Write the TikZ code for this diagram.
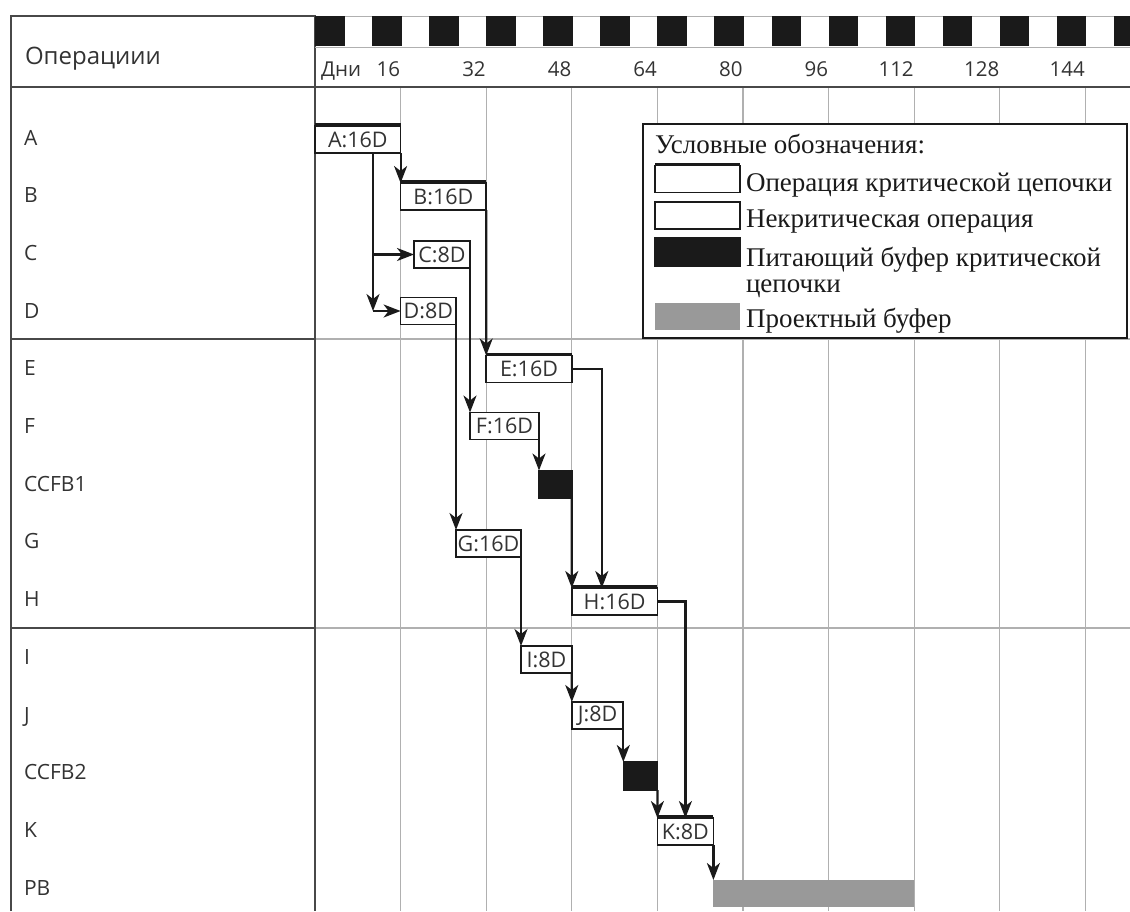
\documentclass[tikz,border=0pt]{standalone}
\usepackage{fontspec}
\setmainfont{Open Sans}
\newfontfamily\legendfont{Liberation Serif}
\usepackage{xcolor}
\usepackage{tikz}
\usetikzlibrary{positioning, arrows.meta}
\definecolor{inkblack}{HTML}{1A1A1A}
\definecolor{gridgray}{HTML}{B0B0B0}
\definecolor{pbgray}{HTML}{999999}
\definecolor{labelgray}{HTML}{333333}

\begin{document}
\begin{tikzpicture}[x=1pt, y=-1pt,
  every node/.style={inner sep=0pt, outer sep=0pt},
  hdr/.style={text=labelgray, font=\fontsize{20.5}{24}\selectfont},
  rowlbl/.style={anchor=base west, text=labelgray, font=\fontsize{21}{24}\selectfont},
  task/.style={draw=inkblack, line width=1.7pt, fill=white, anchor=west,
               minimum height=27pt, text=labelgray, font=\fontsize{21.5}{24}\selectfont},
  feeder/.style={draw=inkblack, fill=inkblack, line width=1.4pt, anchor=west, minimum height=28pt},
  projbuf/.style={fill=pbgray, anchor=west, minimum height=27pt},
  critline/.style={inkblack, line width=3.8pt},
  link/.style={inkblack, line width=2.2pt, -{Stealth[length=17pt, width=13pt, inset=5pt]}},
  legtext/.style={anchor=base west, text=inkblack, font=\legendfont\fontsize{27}{28}\selectfont}]

  \useasboundingbox (0,0) rectangle (1130,911);

  % grid
  \foreach \i in {1,...,9}
    \draw[gridgray, line width=1.3pt] ({315+85.6*\i},87) -- ({315+85.6*\i},911);
  \draw[gridgray, line width=1.3pt] (315,339) -- (1130,339) (315,628) -- (1130,628);

  % table frame and time scale
  \draw[inkblack!80, line width=1.5pt] (11,911) -- (11,16) -- (315,16) -- (315,911);
  \draw[inkblack!80, line width=1.5pt] (11,87) -- (1130,87);
  \draw[inkblack!80, line width=1.5pt] (11,339) -- (315,339) (11,628) -- (315,628);
  \draw[gridgray, line width=1pt] (315,16.5) -- (1130,16.5) (315,47) -- (1130,47);
  \foreach \k in {0,...,14}
    \fill[inkblack] ({315+57.07*\k},16) rectangle +(29.5,30);

  \node[hdr, anchor=base west, font=\fontsize{24}{26}\selectfont] (ops) at (25,64) {Операциии};
  \node[hdr, anchor=base west] (days) at (321,76) {Дни};
  \foreach \d [count=\i] in {16,32,48,64,80,96,112,128,144}
    \node[hdr, anchor=base east] (d\i) at ({314.5+85.6*\i},76) {\d};

  \foreach \r [count=\i from 0] in {A,B,C,D,E,F,CCFB1,G,H,I,J,CCFB2,K,PB}
    \node[rowlbl] (row\i) at (24,{145+57.7*\i}) {\r};

  % operations and buffers
  \node[task, minimum width=85.6pt] (A) at (315,139.5) {A:16D};
  \node[task, minimum width=85.6pt] (B) at (400.6,196.5) {B:16D};
  \node[task, minimum width=56pt] (C) at (414,254.5) {C:8D};
  \node[task, minimum width=55.4pt] (D) at (400.6,311) {D:8D};
  \node[task, minimum width=85.6pt] (E) at (486.2,369) {E:16D};
  \node[task, minimum width=69pt] (F) at (470,426) {F:16D};
  \node[feeder, minimum width=32.8pt] (cb1) at (539,484.5) {};
  \node[task, minimum width=65pt] (G) at (456,543.5) {G:16D};
  \node[task, minimum width=85.6pt] (H) at (571.8,601.5) {H:16D};
  \node[task, minimum width=50.8pt] (I) at (521,659.5) {I:8D};
  \node[task, minimum width=51.5pt] (J) at (571.8,715.5) {J:8D};
  \node[feeder, minimum width=34.1pt] (cb2) at (623.3,776) {};
  \node[task, minimum width=56pt] (K) at (657.4,831.5) {K:8D};
  \node[projbuf, minimum width=200.8pt] (PB) at (713.4,893.5) {};
  \foreach \n in {A,B,E,H,K}
    \draw[critline] ([yshift=1pt]\n.north west) -- ([yshift=1pt]\n.north east);

  % links
  \coordinate (fork) at ([xshift=58pt]A.south west);
  \draw[link] (A.south east) -- (B.north west);
  \draw[link] (fork) |- (C.west);
  \draw[link] (fork) -- (fork |- D.west);
  \draw[link] (fork |- D.west) -- (D.west);
  \draw[link] (B.south east) -- (E.north west);
  \draw[link] (C.south east) -- (F.north west);
  \draw[link] (D.south east) -- (G.north west);
  \draw[link] (F.south east) -- (cb1.north west);
  \draw[link] (cb1.south east) -- (H.north west);
  \draw[link] (E.east) -| ([xshift=30pt]H.north west);
  \draw[link] (G.south east) -- (I.north west);
  \draw[link] (I.south east) -- (J.north west);
  \draw[link] (J.south east) -- (cb2.north west);
  \draw[link] (cb2.south east) -- (K.north west);
  \draw[link] (H.east) -| ([xshift=28pt]K.north west);
  \draw[link] (K.south east) -- (PB.north west);

  % legend
  \node[draw=inkblack, line width=2pt, fill=white, anchor=north west,
        minimum width=484pt, minimum height=214pt] (legend) at (643,124) {};
  \node[legtext] (legtitle) at (655,153) {Условные обозначения:};
  \node[task, minimum width=85pt] (swcrit) at (655,179) {};
  \draw[critline] ([yshift=1pt]swcrit.north west) -- ([yshift=1pt]swcrit.north east);
  \node[task, minimum width=85pt] (swnon) at (655,215.5) {};
  \node[feeder, minimum width=85pt] (swfeed) at (655,252) {};
  \node[projbuf, minimum width=85pt] (swproj) at (655,316.5) {};
  \node[legtext] (lcrit) at (746,191) {Операция критической цепочки};
  \node[legtext] (lnon) at (746,227) {Некритическая операция};
  \node[legtext] (lfeed) at (746,266) {Питающий буфер критической};
  \node[legtext] (lfeedb) at (746,292) {цепочки};
  \node[legtext] (lproj) at (746,327) {Проектный буфер};
\end{tikzpicture}
\end{document}
